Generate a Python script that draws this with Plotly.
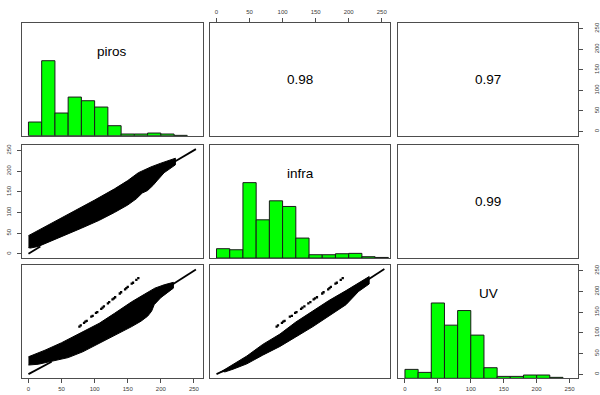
import plotly.graph_objects as go

# ---- data -------------------------------------------------------------
var_names = ["piros", "infra", "UV"]
correlations = [0.98, 0.97, 0.99]          # (piros,infra), (piros,UV), (infra,UV)

bin_edges = [0, 20, 40, 60, 80, 100, 120, 140, 160, 180, 200, 220, 240, 260]
# histogram heights, scaled so that the tallest bin is 1
hist_piros = [0.182, 1.0, 0.302, 0.515, 0.466, 0.382, 0.133, 0.022, 0.022, 0.035, 0.022, 0.004]
hist_infra = [0.124, 0.110, 1.0, 0.507, 0.759, 0.684, 0.265, 0.044, 0.044, 0.057, 0.062, 0.018, 0.008]
hist_uv = [0.119, 0.079, 1.0, 0.706, 0.900, 0.574, 0.141, 0.026, 0.026, 0.044, 0.044, 0.013]

# dense point clouds, outlined by their upper and lower envelopes
cloud_pi_x_up = [0, 25, 50, 75, 100, 130, 150, 166, 185, 200, 215, 222]
cloud_pi_y_up = [44, 65, 86, 108, 130, 157, 177, 196, 210, 219, 227, 231]
cloud_pi_x_lo = [222, 212, 205, 195, 188, 180, 172, 163, 150, 130, 107, 80, 50, 30, 15, 3, 0]
cloud_pi_y_lo = [215, 205, 196, 178, 165, 153, 147, 133, 118, 100, 81, 62, 42, 28, 18, 14, 15]

cloud_pu_x_up = [0, 25, 50, 80, 107, 130, 156, 175, 191, 205, 219]
cloud_pu_y_up = [42, 58, 76, 100, 123, 147, 175, 193, 208, 216, 222]
cloud_pu_x_lo = [219, 210, 200, 190, 186, 180, 170, 156, 140, 131, 110, 82, 60, 32, 15, 0]
cloud_pu_y_lo = [208, 198, 185, 168, 152, 140, 128, 115, 102, 95, 77, 54, 40, 30, 24, 22]

cloud_iu_x_up = [5, 20, 46, 70, 96, 120, 146, 170, 196, 215, 231]
cloud_iu_y_up = [4, 18, 44, 72, 97, 126, 153, 178, 202, 221, 236]
cloud_iu_x_lo = [231, 215, 196, 170, 146, 120, 96, 70, 46, 25, 12]
cloud_iu_y_lo = [218, 200, 168, 140, 115, 90, 67, 46, 25, 12, 5]

# thin diagonal runs of points at both ends of the clouds
run_pi_x = [[0, 18], [220, 253]]
run_pi_y = [[0, 18], [222, 253]]
run_pu_x = [[0, 35], [217, 253]]
run_pu_y = [[0, 30], [216, 253]]
run_iu_x = [[0, 20], [229, 254]]
run_iu_y = [[0, 15], [228, 254]]

# a separate streak of observations with high UV values
streak_piros = [77, 79, 84, 86, 88, 95, 97, 102, 104, 110, 112, 114, 120, 122,
                127, 129, 131, 138, 140, 146, 148, 150, 156, 158, 163, 166]
streak_infra = [91, 93, 99, 101, 103, 111, 114, 119, 121, 128, 130, 133, 139, 142,
                147, 149, 152, 160, 162, 169, 171, 173, 180, 182, 188, 191]
streak_uv = [115, 118, 124, 127, 129, 139, 141, 148, 150, 158, 161, 164, 171, 174,
             181, 183, 186, 195, 198, 205, 208, 211, 219, 221, 228, 232]

# ---- layout geometry --------------------------------------------------
W, H = 600, 395
col_px = [(22, 205), (212.3, 395), (403, 585)]
row_px = [(22.3, 135), (144.3, 257.7), (265, 378.3)]
data_range = [-10.12, 263.12]
hist_range = [0, 1.5]
ticks = [0, 50, 100, 150, 200, 250]

FONT = "Liberation Sans, Arial, Helvetica, sans-serif"
BOX = "#4d4d4d"
TICKC = "#3a3a3a"

fig = go.Figure()


def ax_id(r, c):
    return r * 3 + c + 1


def ref(prefix, k):
    return prefix if k == 1 else f"{prefix}{k}"


def add_cloud(k, xu, yu, xl, yl, runs_x, runs_y):
    fig.add_trace(go.Scatter(
        x=xu + xl, y=yu + yl, mode="lines", fill="toself",
        fillcolor="black", line=dict(color="black", width=1),
        xaxis=ref("x", k), yaxis=ref("y", k), hoverinfo="skip"))
    for rx, ry in zip(runs_x, runs_y):
        fig.add_trace(go.Scatter(
            x=rx, y=ry, mode="lines", line=dict(color="black", width=1.8),
            xaxis=ref("x", k), yaxis=ref("y", k), hoverinfo="skip"))


def add_streak(k, xs, ys):
    fig.add_trace(go.Scatter(
        x=xs, y=ys, mode="markers",
        marker=dict(color="black", size=2.3, symbol="square"),
        xaxis=ref("x", k), yaxis=ref("y", k), hoverinfo="skip"))


# lower panels: scatter clouds (streak first, so the cloud covers it)
add_streak(ax_id(1, 0), streak_piros, streak_infra)
add_cloud(ax_id(1, 0), cloud_pi_x_up, cloud_pi_y_up, cloud_pi_x_lo, cloud_pi_y_lo, run_pi_x, run_pi_y)
add_streak(ax_id(2, 0), streak_piros, streak_uv)
add_cloud(ax_id(2, 0), cloud_pu_x_up, cloud_pu_y_up, cloud_pu_x_lo, cloud_pu_y_lo, run_pu_x, run_pu_y)
add_streak(ax_id(2, 1), streak_infra, streak_uv)
add_cloud(ax_id(2, 1), cloud_iu_x_up, cloud_iu_y_up, cloud_iu_x_lo, cloud_iu_y_lo, run_iu_x, run_iu_y)

# diagonal panels: histograms on a 0..1.5 vertical scale
hists = [hist_piros, hist_infra, hist_uv]
for i, h in enumerate(hists):
    k = ax_id(i, i)
    centers = [(bin_edges[j] + bin_edges[j + 1]) / 2 for j in range(len(h))]
    fig.add_trace(go.Bar(
        x=centers, y=h, width=20,
        marker=dict(color="#00ff00", line=dict(color="#1a1a1a", width=1)),
        xaxis=ref("x", k), yaxis=ref("y", k), hoverinfo="skip"))

# upper panels carry only text; an empty trace keeps each subplot alive
for r, c in [(0, 1), (0, 2), (1, 2)]:
    k = ax_id(r, c)
    fig.add_trace(go.Scatter(x=[None], y=[None], mode="markers",
                             xaxis=ref("x", k), yaxis=ref("y", k),
                             hoverinfo="skip"))

tick_style = dict(ticks="outside", ticklen=4, tickwidth=1, tickcolor=BOX,
                  showticklabels=True,
                  tickfont=dict(family=FONT, size=6, color=TICKC))

layout = {}
for r in range(3):
    for c in range(3):
        k = ax_id(r, c)
        x0, x1 = col_px[c]
        t, b = row_px[r]
        ydom = [1 - b / H, 1 - t / H]
        xa = dict(domain=[x0 / W, x1 / W], range=data_range, showgrid=False,
                  zeroline=False, showline=True, mirror=True, linecolor=BOX,
                  linewidth=1, anchor=ref("y", k), tickvals=ticks,
                  showticklabels=False, ticks="", fixedrange=True)
        ya = dict(domain=ydom, range=hist_range if r == c else data_range,
                  showgrid=False, zeroline=False, showline=True, mirror=True,
                  linecolor=BOX, linewidth=1, anchor=ref("x", k),
                  tickvals=ticks, showticklabels=False, ticks="",
                  fixedrange=True)
        # x axes: top on the middle column, bottom on the outer columns
        if r == 0 and c == 1:
            xa.update(tick_style, side="top", ticklabelstandoff=2)
        if r == 2 and c in (0, 2):
            xa.update(tick_style, side="bottom", ticklabelstandoff=0)
        # y axes: left on the middle row, right on the top row
        if c == 0 and r == 1:
            ya.update(tick_style, side="left", tickangle=-90, ticklabelstandoff=3)
        if c == 2 and r == 0:
            ya.update(tick_style, side="right", tickangle=-90, ticklabelstandoff=9)
        layout[f"xaxis{'' if k == 1 else k}"] = xa
        layout[f"yaxis{'' if k == 1 else k}"] = ya

# value scale for the bottom-right histogram panel, drawn on its right edge
k9 = ax_id(2, 2)
t, b = row_px[2]
layout["yaxis10"] = dict(overlaying=ref("y", k9), anchor=ref("x", k9),
                         domain=[1 - b / H, 1 - t / H], range=data_range,
                         side="right", showgrid=False, zeroline=False,
                         showline=False, tickvals=ticks, fixedrange=True,
                         tickangle=-90, ticklabelstandoff=9, **tick_style)
fig.add_trace(go.Scatter(x=[None], y=[None], mode="markers",
                         xaxis=ref("x", k9), yaxis="y10", hoverinfo="skip"))

annotations = []
# variable names on the diagonal
for i, name in enumerate(var_names):
    k = ax_id(i, i)
    annotations.append(dict(
        text=name, x=0.5, y=0.833, xref=f"{ref('x', k)} domain",
        yref=f"{ref('y', k)} domain", showarrow=False,
        font=dict(family=FONT, size=13.5, color="black")))
# correlation coefficients in the upper panels
for (r, c), val in zip([(0, 1), (0, 2), (1, 2)], correlations):
    k = ax_id(r, c)
    annotations.append(dict(
        text=f"{val:.2f}", x=0.5, y=0.5, xref=f"{ref('x', k)} domain",
        yref=f"{ref('y', k)} domain", showarrow=False,
        font=dict(family=FONT, size=13.5, color="black")))

fig.update_layout(
    width=W, height=H, margin=dict(l=0, r=0, t=0, b=0),
    paper_bgcolor="white", plot_bgcolor="white", showlegend=False,
    barmode="overlay", annotations=annotations, **layout)

fig.write_html("out.html")
